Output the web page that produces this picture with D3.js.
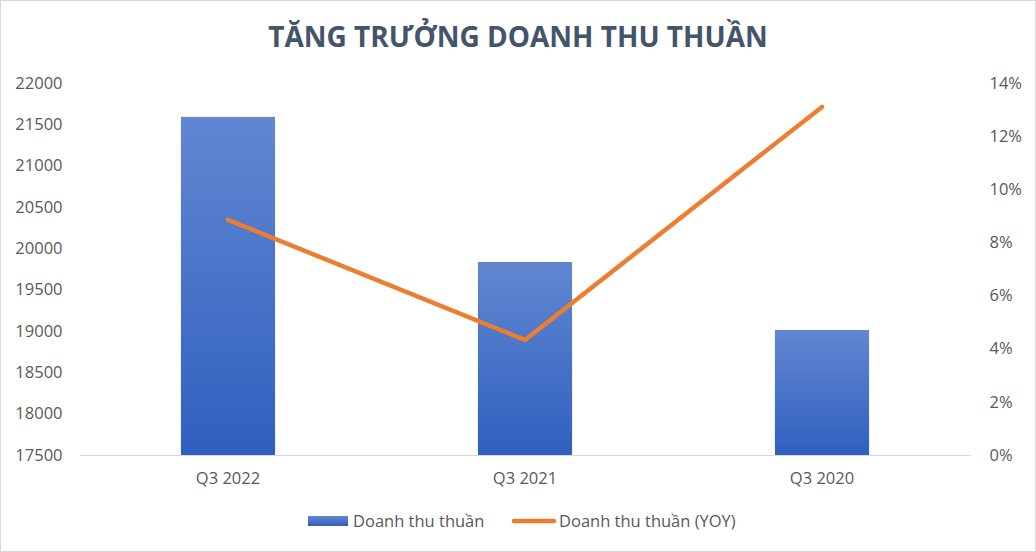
<!DOCTYPE html>
<html><head><meta charset="utf-8">
<script src="https://cdn.jsdelivr.net/npm/d3@7"></script>
<style>body{margin:0;background:#fff}svg{display:block}</style>
</head><body><svg id="c" width="1036" height="552"></svg>
<script>
const categories = ["Q3 2022", "Q3 2021", "Q3 2020"];
const revenue = [21590, 19835, 19012];
const yoy = [0.0885, 0.0433, 0.131];
const leftTicks = [17500, 18000, 18500, 19000, 19500, 20000, 20500, 21000, 21500, 22000];
const rightTicks = [0, 0.02, 0.04, 0.06, 0.08, 0.10, 0.12, 0.14];
const title = "TĂNG TRƯỞNG DOANH THU THUẦN";
const seriesNames = ["Doanh thu thuần", "Doanh thu thuần (YOY)"];

(function(){
const svg = d3.select("#c");
const W = 1036, H = 552;
const font = "'Open Sans', 'Noto Sans', sans-serif";
const fs = 16.5;
svg.append("rect").attr("x",0.5).attr("y",0.5).attr("width",W-1).attr("height",H-1)
  .attr("fill","#fff").attr("stroke","#d9d9d9");

const defs = svg.append("defs");
const g = defs.append("linearGradient").attr("id","bg").attr("x1",0).attr("y1",0).attr("x2",0).attr("y2",1);
g.append("stop").attr("offset","0%").attr("stop-color","#6187d1");
g.append("stop").attr("offset","100%").attr("stop-color","#2f5fbf");

const pL = 79.5, pR = 970.5, pT = 83, pB = 455;
const x = d3.scaleBand().domain(categories).range([pL, pR]).padding(0);
const yL = d3.scaleLinear().domain([17500, 22000]).range([pB, pT]);
const yR = d3.scaleLinear().domain([0, 0.14]).range([pB, pT]);
const bw = x.bandwidth() * 0.317;

svg.append("text").attr("x", 518).attr("y", 47).attr("text-anchor","middle")
  .attr("font-family", font).attr("font-weight", 700).attr("font-size", 28)
  .attr("fill", "#44546a").text(title);

svg.selectAll("rect.bar").data(revenue).enter().append("rect").attr("class","bar")
  .attr("x", (d,i) => x(categories[i]) + x.bandwidth()/2 - bw/2)
  .attr("y", d => yL(d)).attr("width", bw).attr("height", d => yL(17500) - yL(d))
  .attr("fill", "url(#bg)");

const xAxis = d3.axisBottom(x).tickSize(0).tickPadding(17);
const gx = svg.append("g").attr("transform", `translate(0,${pB})`).call(xAxis);
gx.select(".domain").attr("stroke", "#d9d9d9").attr("stroke-width", 1);
gx.selectAll("text").attr("font-family", font).attr("font-size", fs).attr("fill", "#595959");

const gl = svg.append("g").attr("transform", `translate(${pL},0)`)
  .call(d3.axisLeft(yL).tickValues(leftTicks).tickSize(0).tickPadding(17).tickFormat(d3.format("d")));
gl.select(".domain").remove();
gl.selectAll("text").attr("font-family", font).attr("font-size", fs).attr("fill", "#595959");

const gr = svg.append("g").attr("transform", `translate(${pR},0)`)
  .call(d3.axisRight(yR).tickValues(rightTicks).tickSize(0).tickPadding(19).tickFormat(d3.format(".0%")));
gr.select(".domain").remove();
gr.selectAll("text").attr("font-family", font).attr("font-size", fs).attr("fill", "#595959");

const line = d3.line().x((d,i) => x(categories[i]) + x.bandwidth()/2).y(d => yR(d));
svg.append("path").datum(yoy).attr("d", line).attr("fill","none")
  .attr("stroke","#ed7d31").attr("stroke-width",4.5).attr("stroke-linecap","round").attr("stroke-linejoin","round");

const ly = 521;
svg.append("rect").attr("x",308).attr("y",ly-5).attr("width",40).attr("height",10).attr("fill","url(#bg)");
svg.append("text").attr("x",353).attr("y",ly+6).attr("font-family",font).attr("font-size",fs).attr("fill","#595959").text(seriesNames[0]);
svg.append("line").attr("x1",514).attr("x2",554).attr("y1",ly).attr("y2",ly).attr("stroke","#ed7d31").attr("stroke-width",4.5).attr("stroke-linecap","round");
svg.append("text").attr("x",559).attr("y",ly+6).attr("font-family",font).attr("font-size",fs).attr("fill","#595959").text(seriesNames[1]);
})();
</script></body></html>
